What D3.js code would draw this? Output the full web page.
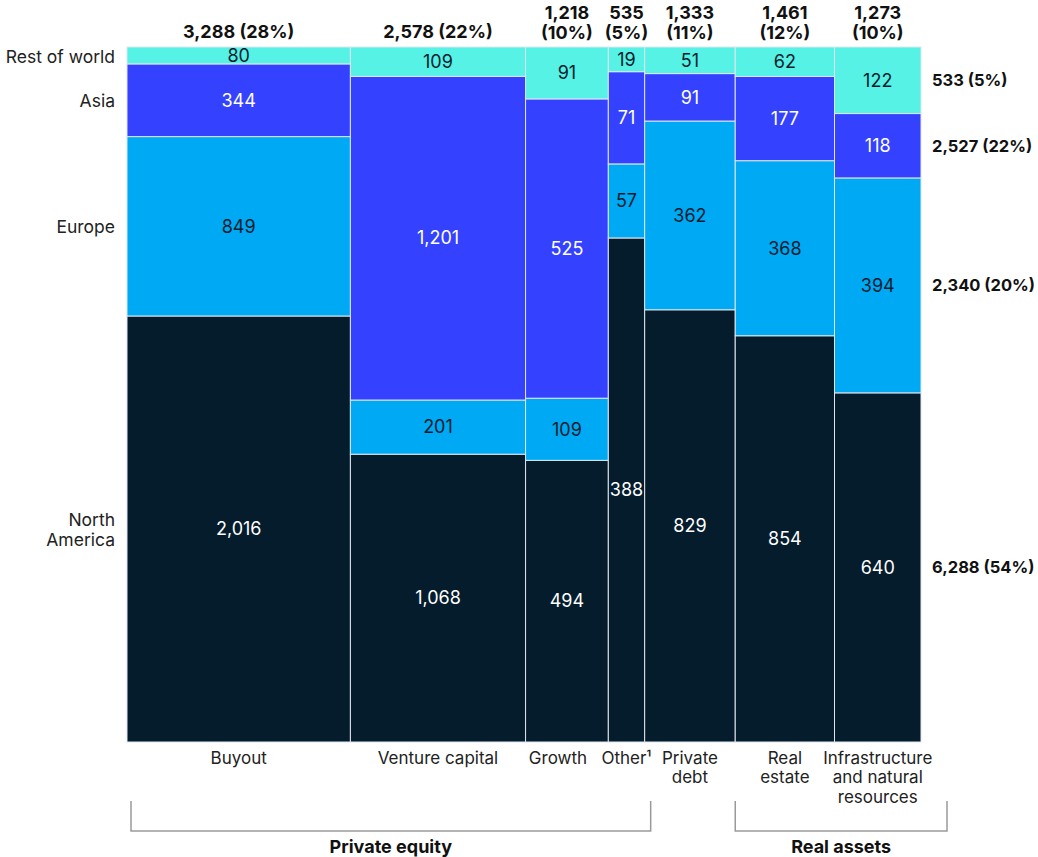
<!DOCTYPE html>
<html>
<head>
<meta charset="utf-8">
<script src="https://cdn.jsdelivr.net/npm/d3@7"></script>
<style>
  body { margin: 0; background: #fff; }
  svg { font-family: Inter, "Liberation Sans", Arial, sans-serif; }
</style>
</head>
<body>
<div id="chart"></div>
<script>
// data
var categories = ["Buyout", "Venture capital", "Growth", "Other", "Private debt", "Real estate", "Infrastructure and natural resources"];
var catLabels = [["Buyout"], ["Venture capital"], ["Growth"], ["Other\u00b9"], ["Private", "debt"], ["Real", "estate"], ["Infrastructure", "and natural", "resources"]];
var colTotals = [3288, 2578, 1218, 535, 1333, 1461, 1273];
var colShares = ["28%", "22%", "10%", "5%", "11%", "12%", "10%"];

var regions = ["North America", "Europe", "Asia", "Rest of world"];   // bottom to top
var northAmerica = [2016, 1068, 494, 388, 829, 854, 640];
var europe       = [849, 201, 109, 57, 362, 368, 394];
var asia         = [344, 1201, 525, 71, 91, 177, 118];
var restOfWorld  = [80, 109, 91, 19, 51, 62, 122];
var regionTotals = [6288, 2340, 2527, 533];
var regionShares = ["54%", "20%", "22%", "5%"];

var groups = [
  {name: "Private equity", first: 0, last: 3},
  {name: "Real assets", first: 5, last: 6}
];

var colors = ["#051c2c", "#00a9f4", "#3442ff", "#55f2e5"];
var textColors = ["#ffffff", "#051c2c", "#ffffff", "#051c2c"];

// dimensions
var W = 1038, H = 857;
var margin = {top: 47, right: 117, bottom: 115, left: 127};
var fs = 17, fsBold = 18;
var labelNudge = [0, 0, -9, 0, 0, 0, 0];   // keep Growth / Other apart

var svg = d3.select("#chart").append("svg")
  .attr("width", W).attr("height", H);

var series = [northAmerica, europe, asia, restOfWorld];

// build column objects
var cum = 0;
var cols = categories.map(function(c, i) {
  var segs = [];
  var sum = d3.sum(series, function(s) { return s[i]; });
  var acc = 0;
  series.forEach(function(s, r) {
    segs.push({region: r, value: s[i], y0: acc / sum, y1: (acc + s[i]) / sum});
    acc += s[i];
  });
  var col = {i: i, name: c, total: colTotals[i], x0: cum, x1: cum + colTotals[i], segs: segs};
  cum += colTotals[i];
  return col;
});

var x = d3.scaleLinear().domain([0, cum]).range([margin.left, W - margin.right]);
var y = d3.scaleLinear().domain([0, 1]).range([H - margin.bottom, margin.top]);

var fmt = d3.format(",");

var colG = svg.selectAll("g.col").data(cols).enter().append("g").attr("class", "col");

colG.selectAll("rect").data(function(d) { return d.segs.map(function(s) { s.col = d; return s; }); })
  .enter().append("rect")
  .attr("x", function(s) { return x(s.col.x0); })
  .attr("width", function(s) { return x(s.col.x1) - x(s.col.x0); })
  .attr("y", function(s) { return y(s.y1); })
  .attr("height", function(s) { return y(s.y0) - y(s.y1); })
  .attr("fill", function(s) { return colors[s.region]; })
  .attr("stroke", "#dfe6ee")
  .attr("stroke-width", 1);

colG.selectAll("text.val").data(function(d) { return d.segs; })
  .enter().append("text")
  .attr("class", "val")
  .attr("x", function(s) { return (x(s.col.x0) + x(s.col.x1)) / 2; })
  .attr("y", function(s) { return (y(s.y0) + y(s.y1)) / 2; })
  .attr("dy", "0.35em")
  .attr("text-anchor", "middle")
  .attr("font-size", fsBold)
  .attr("fill", function(s) { return textColors[s.region]; })
  .text(function(s) { return fmt(s.value); });

// column totals on top
colG.each(function(d) {
  var g = d3.select(this);
  var cx = (x(d.x0) + x(d.x1)) / 2;
  var wide = x(d.x1) - x(d.x0) > 150;
  var lines = wide ? [fmt(d.total) + " (" + colShares[d.i] + ")"] : [fmt(d.total), "(" + colShares[d.i] + ")"];
  var top = wide ? 32 : 13;
  lines.forEach(function(l, k) {
    g.append("text")
      .attr("x", cx).attr("y", top + k * 20).attr("dy", "0.35em")
      .attr("text-anchor", "middle")
      .attr("font-size", fsBold).attr("font-weight", 700)
      .attr("fill", "#111")
      .text(l);
  });

  // category labels below
  catLabels[d.i].forEach(function(l, k) {
    g.append("text")
      .attr("x", cx + labelNudge[d.i]).attr("y", 758 + k * 19.5).attr("dy", "0.35em")
      .attr("text-anchor", "middle")
      .attr("font-size", fs)
      .attr("fill", "#222")
      .text(l);
  });
});

// region labels on the left, aligned to the first column
var first = cols[0];
first.segs.forEach(function(s) {
  var name = regions[s.region];
  var lines = name === "North America" ? ["North", "America"] : [name];
  var cy = (y(s.y0) + y(s.y1)) / 2 + 1;
  lines.forEach(function(l, k) {
    svg.append("text")
      .attr("x", margin.left - 12)
      .attr("y", cy + (k - (lines.length - 1) / 2) * 20)
      .attr("dy", "0.35em")
      .attr("text-anchor", "end")
      .attr("font-size", 17.5)
      .attr("fill", "#222")
      .text(l);
  });
});

// region totals on the right, aligned to the last column
var last = cols[cols.length - 1];
last.segs.forEach(function(s) {
  svg.append("text")
    .attr("x", W - margin.right + 11)
    .attr("y", (y(s.y0) + y(s.y1)) / 2)
    .attr("dy", "0.35em")
    .attr("font-size", 16.5).attr("font-weight", 700)
    .attr("fill", "#111")
    .text(fmt(regionTotals[s.region]) + " (" + regionShares[s.region] + ")");
});

// group brackets
var pads = [[4, 6], [0, 26]];
groups.forEach(function(gr, k) {
  var bx0 = x(cols[gr.first].x0) + pads[k][0];
  var bx1 = x(cols[gr.last].x1) + pads[k][1];
  svg.append("path")
    .attr("d", "M" + bx0 + ",801V831H" + bx1 + "V801")
    .attr("fill", "none")
    .attr("stroke", "#9a9a9a")
    .attr("stroke-width", 1.5);
  svg.append("text")
    .attr("x", (bx0 + bx1) / 2).attr("y", 847).attr("dy", "0.35em")
    .attr("text-anchor", "middle")
    .attr("font-size", fsBold).attr("font-weight", 700)
    .attr("fill", "#111")
    .text(gr.name);
});
</script>
</body>
</html>
